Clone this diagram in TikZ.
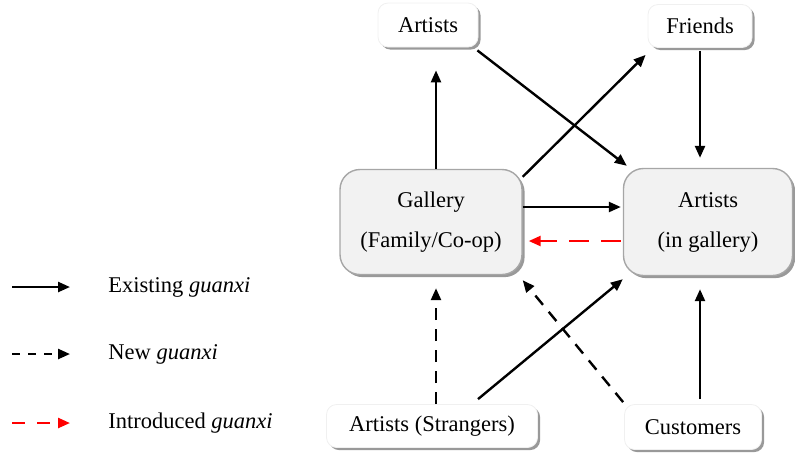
\documentclass[tikz,border=0pt]{standalone}
\usepackage{fontspec}
\setmainfont{Liberation Serif}
\usetikzlibrary{arrows.meta,shadows}
\begin{document}
\begin{tikzpicture}[x=0.5pt,y=-0.5pt,
  every node/.style={font=\fontsize{11.25}{20}\selectfont},
  softshadow/.style={drop shadow={shadow xshift=1.3pt,shadow yshift=-1.3pt,fill=black,opacity=0.4}},
  smallbox/.style={draw=gray!12,line width=0.4pt,fill=white,rounded corners=5pt,softshadow,
    inner sep=0pt,align=center},
  bigbox/.style={draw=gray!70,line width=0.7pt,fill=gray!10,rounded corners=10pt,softshadow,
    inner sep=0pt,align=center},
  link/.style={line width=1.2pt,-{Triangle[length=6pt,width=5pt]}},
  newlink/.style={link,dash pattern=on 6pt off 4.5pt},
  introlink/.style={link,red,dash pattern=on 10pt off 6pt},
]
\useasboundingbox (0,0) rectangle (795,452);

% relationship nodes
\node[smallbox,minimum width=50pt,minimum height=22pt] (a1) at (428,25) {Artists};
\node[smallbox,minimum width=52pt,minimum height=21.5pt] (fr) at (700,26) {Friends};
\node[bigbox,minimum width=91pt,minimum height=52.5pt] (gal) at (431,222) {Gallery\\(Family/Co-op)};
\node[bigbox,minimum width=84.5pt,minimum height=53.5pt] (ag) at (708,222) {Artists\\(in gallery)};
\node[smallbox,minimum width=105.5pt,minimum height=21.5pt] (st) at (432,426) {Artists (Strangers)};
\node[smallbox,minimum width=68.5pt,minimum height=22.5pt] (cu) at (693,427) {Customers};

% existing guanxi
\draw[link] ([shift={(5,0)}]gal.north) -- ([shift={(8,23)}]a1.south);
\draw[link] ([shift={(-1,3)}]a1.south east) -- ([shift={(4,-2)}]ag.north west);
\draw[link] ([shift={(0,8)}]gal.north east) -- ([shift={(-2,7)}]fr.south west);
\draw[link] ([shift={(0,3)}]fr.south) -- ([shift={(-8,-10)}]ag.north);
\draw[link] ([shift={(0,-15)}]gal.east) -- ([shift={(-2,-15)}]ag.west);
\draw[link] ([shift={(46,-5)}]st.north) -- ([shift={(0,3)}]ag.south west);
\draw[link] ([shift={(7,-5)}]cu.north) -- ([shift={(-8,13)}]ag.south);

% introduced guanxi
\draw[introlink] ([shift={(-2,19)}]ag.west) -- ([shift={(6,19)}]gal.east);

% new guanxi
\draw[newlink] ([shift={(4,0)}]st.north) -- ([shift={(5,13)}]gal.south);
\draw[newlink] ([shift={(-1,-2)}]cu.north west) -- ([shift={(0,5)}]gal.south east);

% legend
\coordinate (l1a) at (12,287); \coordinate (l1b) at (70,287);
\coordinate (l2a) at (12,354); \coordinate (l2b) at (70,354);
\coordinate (l3a) at (12,423); \coordinate (l3b) at (70,423);
\draw[link] (l1a) -- (l1b);
\draw[link,dash pattern=on 4pt off 4pt] (l2a) -- (l2b);
\draw[link,red,dash pattern=on 6.5pt off 6pt] (l3a) -- (l3b);
\node[anchor=west,inner sep=0pt] (t1) at (108,287) {Existing \textit{guanxi}};
\node[anchor=west,inner sep=0pt] (t2) at (108,354) {New \textit{guanxi}};
\node[anchor=west,inner sep=0pt] (t3) at (108,423) {Introduced \textit{guanxi}};
\end{tikzpicture}
\end{document}
